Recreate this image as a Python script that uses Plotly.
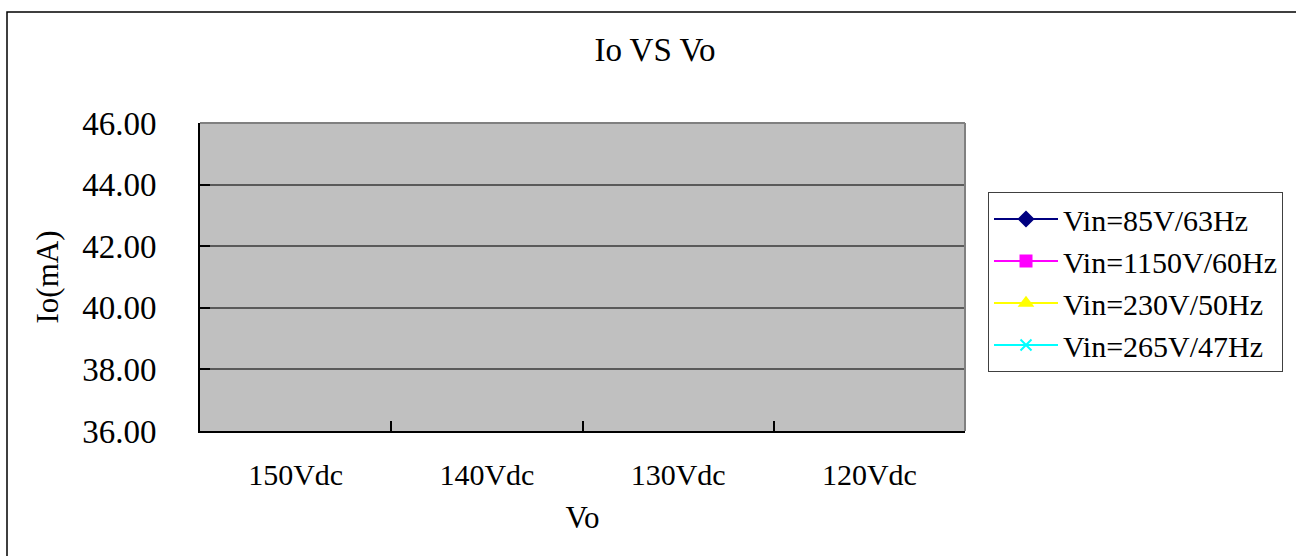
import plotly.graph_objects as go

# Output voltage set points (x categories)
vo_labels = ["150Vdc", "140Vdc", "130Vdc", "120Vdc"]

# Measured output current (mA) per input condition; no readings recorded yet
io_85v_63hz = [None, None, None, None]
io_1150v_60hz = [None, None, None, None]
io_230v_50hz = [None, None, None, None]
io_265v_47hz = [None, None, None, None]

series_names = ["Vin=85V/63Hz", "Vin=1150V/60Hz", "Vin=230V/50Hz", "Vin=265V/47Hz"]
series_values = [io_85v_63hz, io_1150v_60hz, io_230v_50hz, io_265v_47hz]
series_colors = ["#000080", "#FF00FF", "#FFFF00", "#00FFFF"]
series_symbols = ["diamond", "square", "triangle-up", "x-thin-open"]

y_ticks = [36, 38, 40, 42, 44, 46]

FONT = "Liberation Serif"

fig = go.Figure()
for name, vals, col, sym in zip(series_names, series_values, series_colors, series_symbols):
    fig.add_trace(go.Scatter(
        x=vo_labels, y=vals, name=name, mode="lines+markers",
        line=dict(color=col, width=2),
        marker=dict(symbol=sym, size=11, color=col, line=dict(color=col, width=2)),
    ))

fig.update_layout(
    width=1296, height=556,
    margin=dict(l=200, r=331, t=123, b=125, autoexpand=False),
    paper_bgcolor="white",
    plot_bgcolor="#C0C0C0",
    font=dict(family=FONT, color="black", size=31),
    title=dict(text="Io VS Vo", x=(655 - 200) / 765, xref="paper", xanchor="center",
               y=1 - 49 / 556, yanchor="middle", font=dict(size=33)),
    showlegend=True,
    legend=dict(
        x=(988 - 200) / 765, xanchor="left",
        y=(431 - 192) / 308, yanchor="top",
        bgcolor="white", bordercolor="#404040", borderwidth=1,
        font=dict(size=30, family=FONT),
        itemwidth=64,
        tracegroupgap=0,
    ),
)

fig.update_xaxes(
    type="category", categoryorder="array", categoryarray=vo_labels,
    range=[-0.5, 3.5],
    showline=True, linecolor="black", linewidth=2,
    ticks="inside", ticklen=10, tickcolor="black", tickwidth=1.5,
    tickson="boundaries",
    showgrid=False, zeroline=False,
    tickfont=dict(size=30), ticklabelstandoff=16,
    title=dict(text="Vo", font=dict(size=31), standoff=16),
)

fig.update_yaxes(
    range=[36, 46], tickvals=y_ticks, tickformat=".2f",
    showline=True, linecolor="black", linewidth=2,
    ticks="inside", ticklen=10, tickcolor="black", tickwidth=2,
    showgrid=True, gridcolor="#5A5A5A", gridwidth=1.5,
    zeroline=False,
    tickfont=dict(size=33), ticklabelstandoff=35,
    title=dict(text="Io(mA)", font=dict(size=31), standoff=14),
)

# Gray top and right edges of the plotting area
fig.add_shape(type="line", xref="paper", yref="paper", x0=0, x1=1, y0=1, y1=1,
              line=dict(color="#808080", width=2), layer="above")
fig.add_shape(type="line", xref="paper", yref="paper", x0=1, x1=1, y0=0, y1=1,
              line=dict(color="#808080", width=2), layer="above")

# Chart frame around the whole figure
fig.add_shape(type="rect", xref="paper", yref="paper",
              x0=(7 - 200) / 765, x1=(1320 - 200) / 765,
              y0=(431 - 600) / 308, y1=(431 - 12) / 308,
              line=dict(color="black", width=1.5), fillcolor="rgba(0,0,0,0)", layer="above")

fig.write_html("out.html")
